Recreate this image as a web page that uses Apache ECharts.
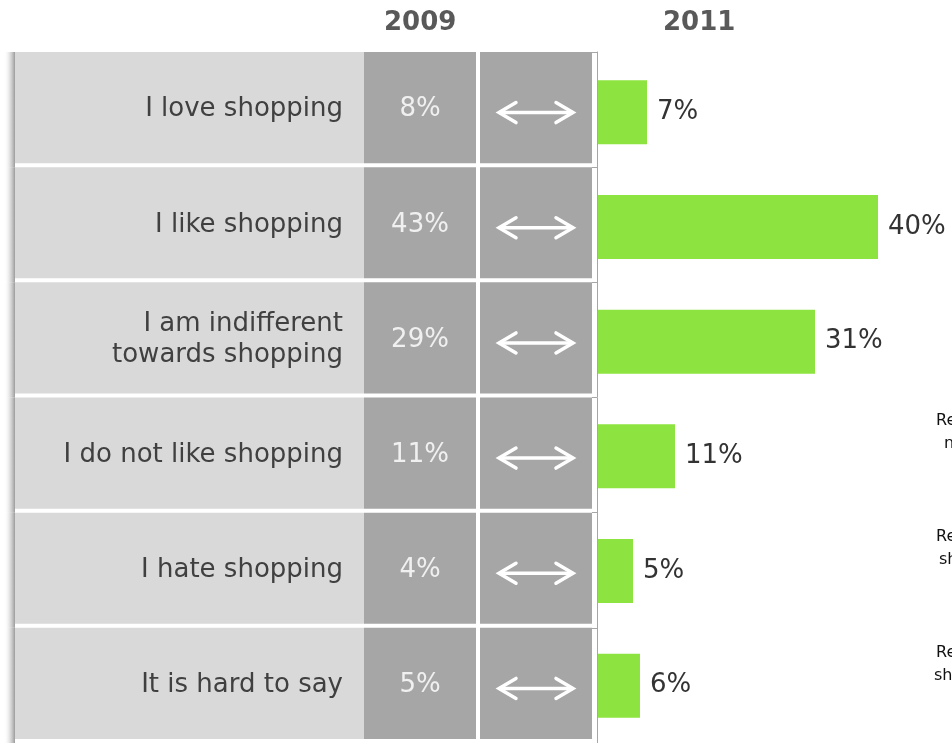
<!DOCTYPE html>
<html>
<head>
<meta charset="utf-8">
<script src="https://cdn.jsdelivr.net/npm/echarts@6/dist/echarts.min.js"></script>
<style>html,body{margin:0;padding:0;background:#fff}#c{width:952px;height:743px}</style>
</head>
<body>
<div id="c"></div>
<script>
const categories = ['I love shopping', 'I like shopping', 'I am indifferent\ntowards shopping', 'I do not like shopping', 'I hate shopping', 'It is hard to say'];
const values2009 = [8, 43, 29, 11, 4, 5];
const values2011 = [7, 40, 31, 11, 5, 6];
const headers = ['2009', '2011'];
const notes = [null, null, null, ['Reasons for', 'not liking'], ['Reasons', 'shopping'], ['Reasons', 'shopping']];

const FONT = '"DejaVu Sans", Verdana, sans-serif';
const TBL_LEFT = 15, LABEL_W = 349, COL_W = 112, GAP = 4;
const TOP = 52, ROW = 116;
const BAR_LEFT = 598;

const chart = echarts.init(document.getElementById('c'), null, {renderer: 'canvas'});

function renderRow(params, api) {
  const idx = api.value(1);
  const cy = api.coord([0, idx])[1];
  const band = api.size([0, 1])[1];
  const top = cy - band / 2;
  const h = band - GAP;
  const x0 = params.coordSys.x;
  const mid = top + h / 2 + 2;
  const ax = x0 + LABEL_W + COL_W + GAP + COL_W / 2;
  const ay = top + h / 2 + 5;
  const children = [
    {type: 'rect', shape: {x: x0 - 11, y: top, width: 11, height: band},
      style: {fill: new echarts.graphic.LinearGradient(0, 0, 1, 0, [
        {offset: 0, color: 'rgba(255,255,255,0)'},
        {offset: 0.6, color: 'rgba(190,190,190,0.6)'},
        {offset: 1, color: 'rgba(150,150,150,0.95)'}])}},
    {type: 'rect', shape: {x: x0, y: top, width: LABEL_W, height: h}, style: {fill: '#d9d9d9'}},
    {type: 'rect', shape: {x: x0 + LABEL_W, y: top, width: COL_W, height: h}, style: {fill: '#a6a6a6'}},
    {type: 'rect', shape: {x: x0 + LABEL_W + COL_W + GAP, y: top, width: COL_W, height: h}, style: {fill: '#a6a6a6'}},
    {type: 'text', style: {x: x0 + LABEL_W - 21, y: mid, text: categories[idx], align: 'right', verticalAlign: 'middle',
      fill: '#404040', font: '26px ' + FONT, lineHeight: 31}},
    {type: 'text', style: {x: x0 + LABEL_W + COL_W / 2, y: mid, text: values2009[idx] + '%', align: 'center', verticalAlign: 'middle',
      fill: '#f0f0f0', font: '26px ' + FONT}},
    {type: 'line', shape: {x1: ax - 36, y1: ay, x2: ax + 36, y2: ay}, style: {stroke: '#fff', lineWidth: 3.5, lineCap: 'round'}},
    {type: 'polyline', shape: {points: [[ax - 20, ay - 10], [ax - 37, ay], [ax - 20, ay + 10]]},
      style: {stroke: '#fff', lineWidth: 3.5, fill: null, lineCap: 'round', lineJoin: 'miter'}},
    {type: 'polyline', shape: {points: [[ax + 20, ay - 10], [ax + 37, ay], [ax + 20, ay + 10]]},
      style: {stroke: '#fff', lineWidth: 3.5, fill: null, lineCap: 'round', lineJoin: 'miter'}}
  ];
  return {type: 'group', children: children};
}

const graphics = [];
const col2009 = TBL_LEFT + LABEL_W + COL_W / 2;
graphics.push({type: 'text', left: col2009 - 36, top: 10, style: {text: headers[0], fill: '#595959', font: 'bold 26px ' + FONT}});
graphics.push({type: 'text', left: 663, top: 10, style: {text: headers[1], fill: '#595959', font: 'bold 26px ' + FONT}});
notes.forEach((n, i) => {
  if (!n) return;
  const base = TOP + ROW * i + 13;
  graphics.push({type: 'text', left: 936, top: base, style: {text: n[0], fill: '#111', font: '16px ' + FONT}});
  graphics.push({type: 'text', left: i === 3 ? 944 : (i === 4 ? 939 : 934), top: base + 23, style: {text: n[1], fill: '#111', font: '16px ' + FONT}});
});

chart.setOption({
  animation: false,
  backgroundColor: '#fff',
  grid: [
    {left: BAR_LEFT, width: 350, top: TOP + 3, height: ROW * 6 - 2},
    {left: TBL_LEFT, width: LABEL_W + COL_W * 2 + GAP, top: TOP, height: ROW * 6}
  ],
  xAxis: [
    {gridIndex: 0, type: 'value', min: 0, max: 50, show: false},
    {gridIndex: 1, type: 'value', min: 0, max: 1, show: false}
  ],
  yAxis: [
    {gridIndex: 0, type: 'category', inverse: true, data: categories, show: false},
    {gridIndex: 1, type: 'category', inverse: true, data: categories, position: 'right', offset: 5,
      axisLine: {show: true, onZero: false, lineStyle: {color: '#a6a6a6', width: 1}},
      axisTick: {show: true, inside: true, length: 5, lineStyle: {color: '#a6a6a6'}},
      axisLabel: {show: false}, splitLine: {show: false}}
  ],
  series: [
    {type: 'custom', xAxisIndex: 1, yAxisIndex: 1, renderItem: renderRow,
      data: categories.map((c, i) => [0, i]), encode: {x: 0, y: 1}, silent: true, z: 1},
    {type: 'bar', xAxisIndex: 0, yAxisIndex: 0, data: values2011, barWidth: 64,
      itemStyle: {color: '#8de33f'},
      label: {show: true, position: 'right', distance: 10, formatter: '{c}%', color: '#333',
        fontSize: 26, fontFamily: FONT}, z: 3}
  ],
  graphic: graphics
});
</script>
</body>
</html>
